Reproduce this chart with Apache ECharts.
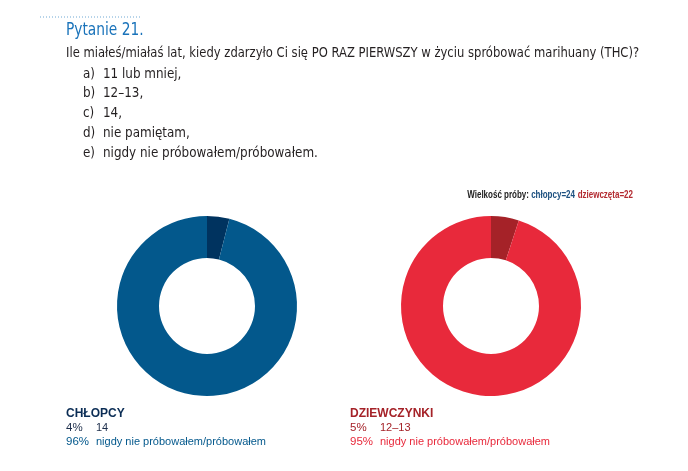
<!DOCTYPE html>
<html>
<head>
<meta charset="utf-8">
<script src="https://cdn.jsdelivr.net/npm/echarts@6/dist/echarts.min.js"></script>
<style>
html,body{margin:0;padding:0;background:#fff;}
#c{width:688px;height:471px;}
</style>
</head>
<body>
<div id="c"></div>
<script>
const titleText = 'Pytanie 21.';
const questionText = 'Ile miałeś/miałaś lat, kiedy zdarzyło Ci się PO RAZ PIERWSZY w życiu spróbować marihuany (THC)?';
const optionLetters = ['a)', 'b)', 'c)', 'd)', 'e)'];
const optionTexts = ['11 lub mniej,', '12–13,', '14,', 'nie pamiętam,', 'nigdy nie próbowałem/próbowałem.'];
const categories = ['11 lub mniej', '12–13', '14', 'nie pamiętam', 'nigdy nie próbowałem/próbowałem'];
const boysValues = [0, 0, 4, 0, 96];
const girlsValues = [0, 5, 0, 0, 95];
const boysColors = ['#00335f', '#00335f', '#00335f', '#00335f', '#03588c'];
const girlsColors = ['#a52228', '#a52228', '#a52228', '#a52228', '#e8293b'];
const sampleBoys = 24;
const sampleGirls = 22;

const chart = echarts.init(document.getElementById('c'));
const qFont = '"DejaVu Sans Condensed", "Liberation Sans Narrow", sans-serif';
const lFont = '"Liberation Sans", Arial, sans-serif';

const graphics = [];
graphics.push({type:'line', shape:{x1:40,y1:17,x2:142,y2:17}, style:{stroke:'#6fa8d3', lineWidth:1, lineDash:[1,2]}});
graphics.push({type:'text', x:66, y:31, scaleX:0.9, style:{text:titleText, font:'17px '+qFont, fill:'#1a73ba', textVerticalAlign:'middle'}});
graphics.push({type:'text', x:66, y:53, scaleX:0.92, style:{text:questionText, font:'14px '+qFont, fill:'#231f20', textVerticalAlign:'middle'}});
optionTexts.forEach((t,i)=>{
  graphics.push({type:'text', x:83, y:74+i*19.8, scaleX:0.95, style:{text:optionLetters[i], font:'14px '+qFont, fill:'#231f20', textVerticalAlign:'middle'}});
  graphics.push({type:'text', x:103, y:74+i*19.8, scaleX:0.95, style:{text:t, font:'14px '+qFont, fill:'#231f20', textVerticalAlign:'middle'}});
});
graphics.push({type:'text', x:633, y:195, scaleX:0.8, style:{
  rich:{k:{fontFamily:lFont,fontSize:10,fontWeight:'bold',fill:'#222'},b:{fontFamily:lFont,fontSize:10,fontWeight:'bold',fill:'#1b4f7f'},g:{fontFamily:lFont,fontSize:10,fontWeight:'bold',fill:'#b22a30'}},
  text:'{k|Wielkość próby: }{b|chłopcy='+sampleBoys+'} {g|dziewczęta='+sampleGirls+'}',
  textAlign:'right', textVerticalAlign:'middle'
}});

function legend(x, title, titleColor, values, textColors){
  graphics.push({type:'text', x:x, y:414, style:{text:title, font:'900 12px '+lFont, fill:titleColor, textVerticalAlign:'middle'}});
  let row = 0;
  values.forEach((v,i)=>{
    if(v>0){
      const y = 427.5 + row*14.5;
      graphics.push({type:'text', x:x, y:y, style:{text:v+'%', font:'11.5px '+lFont, fill:textColors[row], textVerticalAlign:'middle'}});
      graphics.push({type:'text', x:x+30, y:y, style:{text:categories[i], font:'11px '+lFont, fill:textColors[row], textVerticalAlign:'middle'}});
      row++;
    }
  });
}
legend(66, 'CHŁOPCY', '#0b2d55', boysValues, ['#1c2d4a', '#03588c']);
legend(350, 'DZIEWCZYNKI', '#a52228', girlsValues, ['#a52228', '#e8293b']);

function pieSeries(cx, values, colors){
  return {
    type:'pie', center:[cx,306], radius:[48,90], startAngle:90, clockwise:true,
    silent:true, label:{show:false}, labelLine:{show:false}, animation:false,
    data: categories.map((c,i)=>({name:c, value:values[i], itemStyle:{color:colors[i]}})),
    itemStyle:{borderWidth:0}
  };
}

chart.setOption({
  animation:false,
  series:[pieSeries(207, boysValues, boysColors), pieSeries(491, girlsValues, girlsColors)],
  graphic: graphics
});
</script>
</body>
</html>
